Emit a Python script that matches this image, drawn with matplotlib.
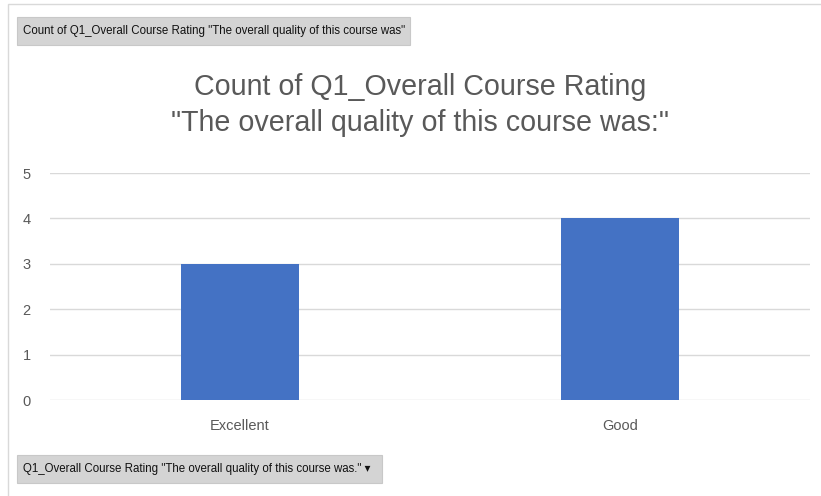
import matplotlib.pyplot as plt
from matplotlib.patches import Rectangle

categories = ['Excellent', 'Good']
counts = [3, 4]
yticks = [0, 1, 2, 3, 4, 5]

title = 'Count of Q1_Overall Course Rating\n"The overall quality of this course was:"'
top_button = 'Count of Q1_Overall Course Rating "The overall quality of this course was"'
bottom_button = 'Q1_Overall Course Rating "The overall quality of this course was." \u25be'

W, H = 821, 496
fig = plt.figure(figsize=(W / 100, H / 100), dpi=100)
plt.rcParams['font.family'] = ['Liberation Sans', 'DejaVu Sans']

# plot area in pixels
left, right, bottom, top = 50, 810, 496 - 400, 496 - 173
ax = fig.add_axes([left / W, bottom / H, (right - left) / W, (top - bottom) / H])
ax.bar(range(len(categories)), counts, width=0.31, color='#4472C4', zorder=3)
ax.set_xlim(-0.5, len(categories) - 0.5)
ax.set_ylim(0, 5)
ax.set_yticks(yticks)
ax.set_xticks(range(len(categories)))
ax.set_xticklabels(categories)
ax.grid(axis='y', color='#D9D9D9', linewidth=1, zorder=0)
for s in ax.spines.values():
    s.set_visible(False)
ax.tick_params(length=0, colors='#595959', labelsize=10.5)
ax.tick_params(axis='y', pad=14)
ax.tick_params(axis='x', pad=14)

fig.text(420 / W, 1 - 105 / H, title, ha='center', va='center', fontsize=20.6,
         color='#595959', linespacing=1.38)

# outer chart border
fig.patches.append(Rectangle((8 / W, -0.01), 1.1, 1 - 4 / H + 0.01, transform=fig.transFigure,
                             fill=False, edgecolor='#D9D9D9', linewidth=1))

# pivot field buttons
for x0, y0, w, txt in [(17, 17, 393, top_button), (17, 455, 365, bottom_button)]:
    fig.patches.append(Rectangle((x0 / W, 1 - (y0 + 28) / H), w / W, 28 / H,
                                 transform=fig.transFigure, facecolor='#D4D4D4',
                                 edgecolor='#C8C8C8', linewidth=0.8))
    fig.text((x0 + 6) / W, 1 - (y0 + 14) / H, txt, ha='left', va='center',
             fontsize=8.3, color='#111111')

fig.savefig('out.png', dpi=100)
